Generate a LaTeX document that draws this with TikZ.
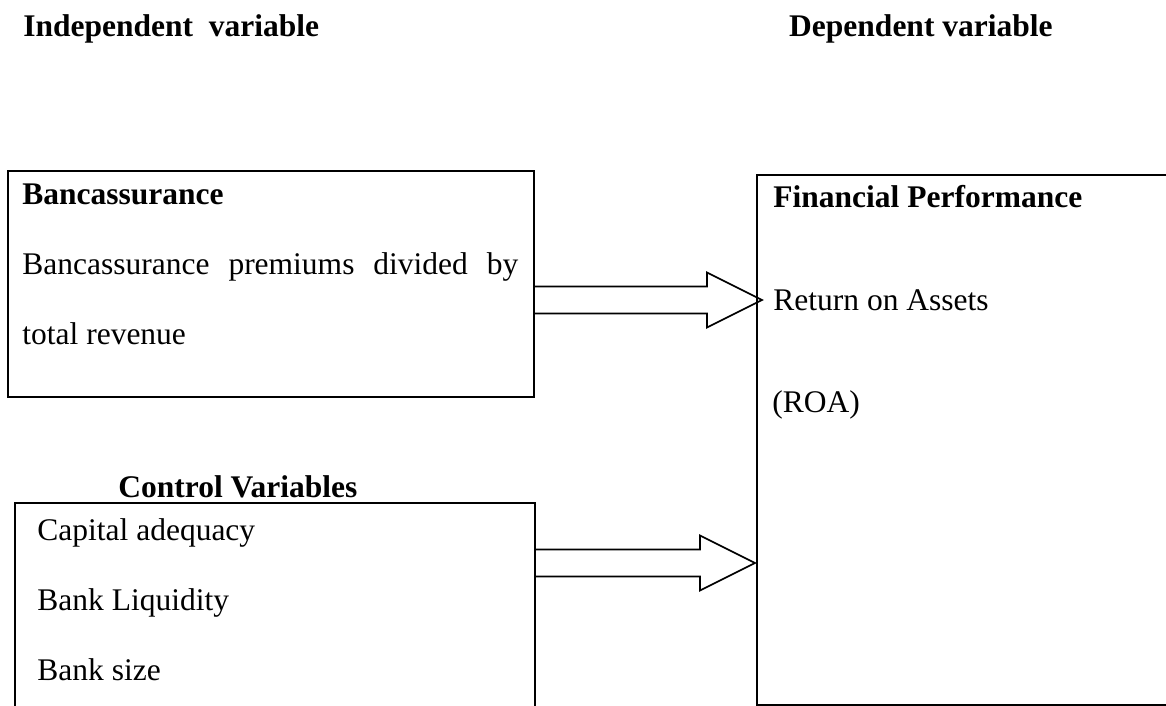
\documentclass[tikz,border=0pt]{standalone}
\usepackage{fontspec}
\setmainfont{Liberation Serif}
\usetikzlibrary{calc}
\begin{document}
\begin{tikzpicture}[x=0.5pt,y=-0.5pt,line join=miter,
  txt/.style={anchor=base west,inner sep=0pt,font=\fontsize{15.75}{19}\selectfont},
  hd/.style={txt,font=\fontsize{15.75}{19}\selectfont\bfseries},
  box/.style={line width=1.1pt},
  blockarr/.style={line width=0.8pt}]
\useasboundingbox (0,0) rectangle (1166,706);
\clip (0,0) rectangle (1166,706);
% headings
\node[hd] (indep) at (23,37) {Independent~~variable};
\node[hd,anchor=base east] (dep) at (1053,37) {Dependent variable};
% boxes
\draw[box] (8,171) rectangle (534,397);
\draw[box] (15,725) -- (15,503) -- (535,503) -- (535,725);
\draw[box,line width=1.3pt] (1180,705) -- (757,705) -- (757,175) -- (1180,175);
% box texts
\node[hd] (banc) at (22,204) {Bancassurance};
\node[txt] (bprem) at (22,274) {\makebox[248pt][s]{Bancassurance premiums divided by}};
\node[txt] (brev) at (22,344) {total revenue};
\node[hd] (ctrl) at (118,497) {Control Variables};
\node[txt] (cap) at (37,540) {Capital adequacy};
\node[txt] (liq) at (37,610) {Bank Liquidity};
\node[txt] (bsize) at (37,680) {Bank size};
\node[hd] (fin) at (773,207) {Financial Performance};
\node[txt] (roa) at (773,310) {Return on Assets};
\node[txt] (roab) at (772,412) {(ROA)};
% block arrows
\coordinate (t1) at (534,300); \coordinate (h1) at (762,300);
\coordinate (t2) at (535,563); \coordinate (h2) at (755,563);
\foreach \t/\h in {t1/h1,t2/h2}{\draw[blockarr] ($(\t)+(0,-13.5)$) -- ($(\h)+(-55,-13.5)$) -- ($(\h)+(-55,-27.5)$) -- (\h) -- ($(\h)+(-55,27.5)$) -- ($(\h)+(-55,13.5)$) -- ($(\t)+(0,13.5)$);};
\end{tikzpicture}
\end{document}
